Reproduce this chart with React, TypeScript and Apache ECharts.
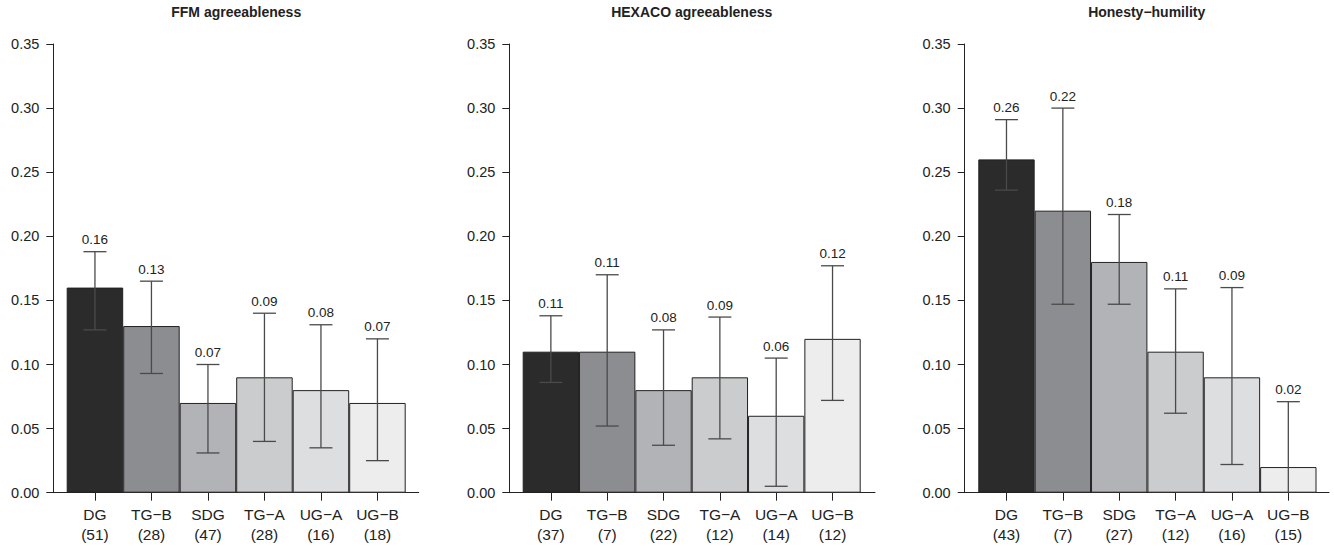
import React, { useEffect, useRef } from "react";
import * as echarts from "echarts";

const categories = ["DG", "TG−B", "SDG", "TG−A", "UG−A", "UG−B"];
const panelTitles = ["FFM agreeableness", "HEXACO agreeableness", "Honesty−humility"];

const ffmN = [51, 28, 47, 28, 16, 18];
const ffmValues = [0.16, 0.13, 0.07, 0.09, 0.08, 0.07];
const ffmLow = [0.127, 0.093, 0.031, 0.04, 0.035, 0.025];
const ffmHigh = [0.188, 0.165, 0.1, 0.14, 0.131, 0.12];

const hexacoN = [37, 7, 22, 12, 14, 12];
const hexacoValues = [0.11, 0.11, 0.08, 0.09, 0.06, 0.12];
const hexacoLow = [0.086, 0.052, 0.037, 0.042, 0.005, 0.072];
const hexacoHigh = [0.138, 0.17, 0.127, 0.137, 0.105, 0.177];

const hhN = [43, 7, 27, 12, 16, 15];
const hhValues = [0.26, 0.22, 0.18, 0.11, 0.09, 0.02];
const hhLow = [0.236, 0.147, 0.147, 0.062, 0.022, -0.03];
const hhHigh = [0.291, 0.3, 0.217, 0.159, 0.16, 0.071];

const yMin = 0;
const yMax = 0.35;
const yInterval = 0.05;

const barColors = ["#2c2b2c", "#8c8d91", "#b2b3b7", "#cbcccd", "#dddee0", "#ededed"];

const panels = [
  { title: panelTitles[0], n: ffmN, values: ffmValues, low: ffmLow, high: ffmHigh },
  { title: panelTitles[1], n: hexacoN, values: hexacoValues, low: hexacoLow, high: hexacoHigh },
  { title: panelTitles[2], n: hhN, values: hhValues, low: hhLow, high: hhHigh },
];

// layout (pixels)
const layout = [
  { axisX: 53.3, barsL: 66.7, barsR: 405.7, axisEnd: 418.7, titleX: 236.2 },
  { axisX: 509.3, barsL: 522.7, barsR: 860.7, axisEnd: 875, titleX: 691.7 },
  { axisX: 964.7, barsL: 978.3, barsR: 1316.5, axisEnd: 1329, titleX: 1146.7 },
];
const plotTop = 44;
const plotHeight = 448.7;
const FONT = '"Liberation Sans", Arial, Helvetica, sans-serif';
const INK = "#222";

export default function App() {
  const ref = useRef<HTMLDivElement>(null);
  useEffect(() => {
    if (!ref.current) return;
    const chart = echarts.init(ref.current, undefined, { renderer: "svg" });
    const grid: any[] = [];
    const xAxis: any[] = [];
    const yAxis: any[] = [];
    const series: any[] = [];
    const title: any[] = [];
    panels.forEach((p, k) => {
      const L = layout[k];
      const inner = 2 * k;
      const outer = 2 * k + 1;
      title.push({
        text: p.title,
        left: L.titleX,
        top: 5,
        padding: 0,
        textAlign: "center",
        textStyle: { fontSize: 14, fontWeight: "bold", color: INK, fontFamily: FONT },
      });
      grid.push({ left: L.barsL, width: L.barsR - L.barsL, top: plotTop, height: plotHeight });
      grid.push({ left: L.axisX, width: L.axisEnd - L.axisX, top: plotTop, height: plotHeight });
      xAxis.push({
        type: "category",
        gridIndex: inner,
        data: categories.map((c, i) => `${c}\n(${p.n[i]})`),
        boundaryGap: true,
        axisLine: { show: false },
        axisTick: { show: true, alignWithLabel: true, length: 8, lineStyle: { color: INK, width: 1 } },
        axisLabel: { color: INK, fontSize: 15.5, fontFamily: FONT, lineHeight: 20, margin: 12, interval: 0 },
        splitLine: { show: false },
      });
      xAxis.push({
        type: "value",
        gridIndex: outer,
        min: 0,
        max: 1,
        axisLine: { show: true, lineStyle: { color: INK, width: 1 } },
        axisTick: { show: false },
        axisLabel: { show: false },
        splitLine: { show: false },
      });
      yAxis.push({
        type: "value",
        gridIndex: inner,
        min: yMin,
        max: yMax,
        interval: yInterval,
        offset: L.barsL - L.axisX,
        axisLine: { show: true, lineStyle: { color: INK, width: 1 } },
        axisTick: { show: true, length: 7, lineStyle: { color: INK, width: 1 } },
        axisLabel: {
          color: INK,
          fontSize: 14.5,
          fontFamily: FONT,
          margin: 14,
          formatter: (v: number) => v.toFixed(2),
        },
        splitLine: { show: false },
      });
      yAxis.push({ type: "value", gridIndex: outer, min: 0, max: 1, show: false });
      series.push({
        type: "bar",
        xAxisIndex: inner,
        yAxisIndex: inner,
        barCategoryGap: "0%",
        barGap: "0%",
        data: p.values.map((v, i) => ({ value: v, itemStyle: { color: barColors[i] } })),
        itemStyle: { borderColor: INK, borderWidth: 1 },
        z: 2,
      });
      series.push({
        type: "custom",
        xAxisIndex: inner,
        yAxisIndex: inner,
        z: 5,
        data: p.values.map((v, i) => [i, p.low[i], p.high[i], v]),
        renderItem: (params: any, api: any) => {
          const i = api.value(0);
          const lowRaw = api.value(1);
          const lowV = Math.max(lowRaw, yMin);
          const hi = api.value(2);
          const val = api.value(3);
          const top = api.coord([i, hi]);
          const bot = api.coord([i, lowV]);
          const half = 11.5;
          const ls = { stroke: "#4a4a4a", lineWidth: 1.3 };
          const children: any[] = [
            { type: "line", shape: { x1: top[0], y1: top[1], x2: bot[0], y2: bot[1] }, style: ls },
            { type: "line", shape: { x1: top[0] - half, y1: top[1], x2: top[0] + half, y2: top[1] }, style: ls },
          ];
          if (lowRaw >= yMin) {
            children.push({
              type: "line",
              shape: { x1: bot[0] - half, y1: bot[1], x2: bot[0] + half, y2: bot[1] },
              style: ls,
            });
          }
          children.push({
            type: "text",
            x: top[0],
            y: top[1] - 12,
            style: {
              text: val.toFixed(2),
              fill: INK,
              fontSize: 13.5,
              fontFamily: FONT,
              align: "center",
              verticalAlign: "middle",
            },
          });
          return { type: "group", children };
        },
      });
    });
    chart.setOption({
      animation: false,
      backgroundColor: "#ffffff",
      title,
      grid,
      xAxis,
      yAxis,
      series,
    });
    return () => chart.dispose();
  }, []);
  return (
    <div
      ref={ref}
      style={{ position: "fixed", left: 0, top: 0, width: 1334, height: 546, background: "#fff" }}
    />
  );
}
